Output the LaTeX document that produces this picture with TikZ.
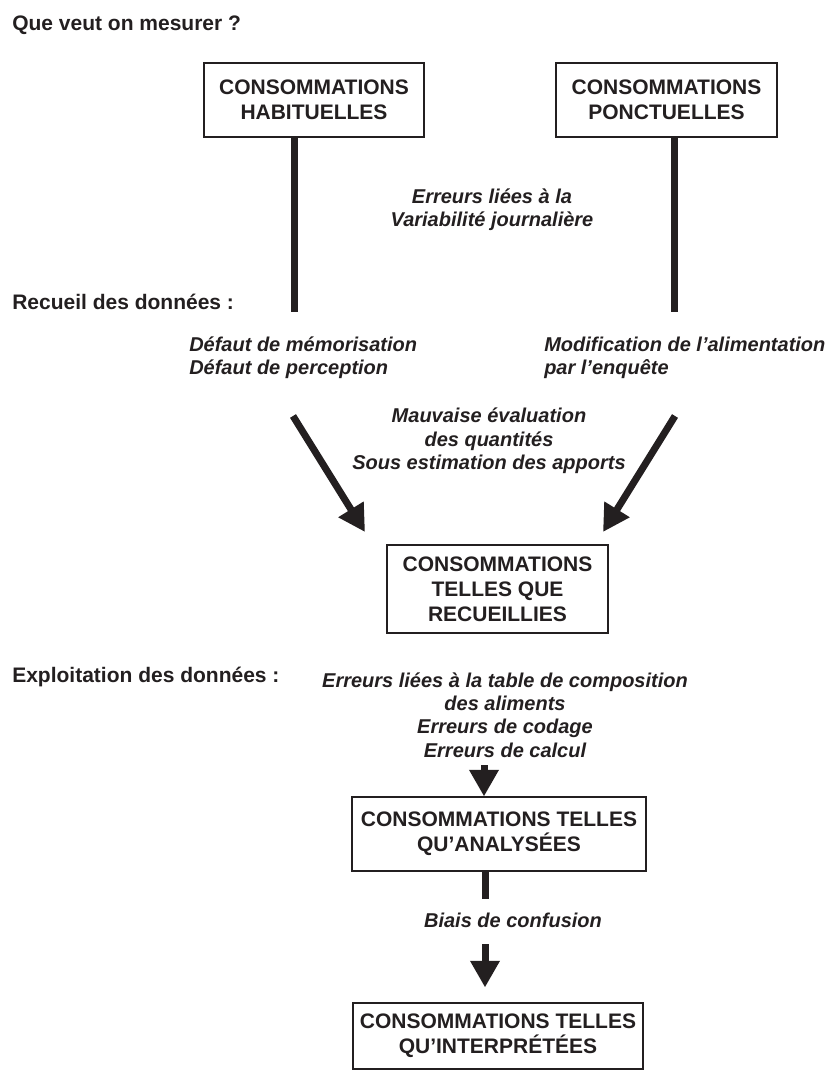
\documentclass[tikz,border=0pt]{standalone}
\usepackage{fontspec}
\setmainfont{Liberation Sans}
\usetikzlibrary{arrows.meta}
\definecolor{encre}{RGB}{35,31,32}

\begin{document}
\begin{tikzpicture}[
    x=0.75pt, y=-0.75pt,
    boite/.style={
      draw=encre, line width=0.8pt, align=center, inner sep=0pt,
      text=encre, font=\fontsize{15.75}{18.75}\selectfont\bfseries
    },
    rubrique/.style={
      anchor=base west, inner sep=0pt, text=encre,
      font=\fontsize{15.75}{18.75}\selectfont\bfseries
    },
    erreur/.style={
      align=center, inner sep=0pt, text=encre,
      font=\fontsize{15}{17.6}\selectfont\bfseries\itshape
    },
    trait/.style={draw=encre, line width=5.25pt},
    fleche/.style={
      trait,
      -{Triangle[length=20pt,width=21pt]}
    }
  ]
    \useasboundingbox (0,0) rectangle (827,1071);

    \node[rubrique] (Question) at (12,30) {Que veut on mesurer ?};
    \node[rubrique] (Recueil) at (12,309) {Recueil des données :};
    \node[rubrique] (Exploitation) at (12,682) {Exploitation des données :};

    \node[boite,minimum width=165pt,minimum height=55.5pt] (Habituelles) at (314,100) {CONSOMMATIONS\\HABITUELLES};
    \node[boite,minimum width=165.75pt,minimum height=55.5pt] (Ponctuelles) at (666.5,100) {CONSOMMATIONS\\PONCTUELLES};
    \node[boite,minimum width=165.75pt,minimum height=66pt] (Recueillies) at (497.5,589) {CONSOMMATIONS\\TELLES QUE\\RECUEILLIES};
    \node[boite,minimum width=220.5pt,minimum height=55.5pt] (Analysees) at (499,834) {CONSOMMATIONS TELLES\\QU’ANALYSÉES};
    \node[boite,minimum width=217.5pt,minimum height=49.5pt] (Interpretees) at (498,1036) {CONSOMMATIONS TELLES\\QU’INTERPRÉTÉES};

    \node[erreur] (Variabilite) at (492,210) {Erreurs liées à la\\Variabilité journalière};
    \node[erreur,align=left,anchor=west] (Memoire) at (189,358) {Défaut de mémorisation\\Défaut de perception};
    \node[erreur,align=left,anchor=west] (Enquete) at (544,358) {Modification de l’alimentation\\par l’enquête};
    \node[erreur] (Quantites) at (489,441) {Mauvaise évaluation\\des quantités\\Sous estimation des apports};
    \node[erreur] (Composition) at (505,715) {Erreurs liées à la table de composition\\des aliments\\Erreurs de codage\\Erreurs de calcul};
    \node[erreur] (Confusion) at (513,920) {Biais de confusion};

    \coordinate (HabBas) at (294,312);
    \coordinate (PonBas) at (674,312);
    \coordinate (HabQueue) at (293,416);
    \coordinate (HabPointe) at (365,532);
    \coordinate (PonQueue) at (675,416);
    \coordinate (PonPointe) at (603,532);
    \coordinate (CalculQueue) at (484,765);
    \coordinate (AnaBas) at (485,899);
    \coordinate (ConfQueue) at (485,944);

    \draw[trait] (Habituelles.south -| HabBas) -- (HabBas);
    \draw[trait] (Ponctuelles.south -| PonBas) -- (PonBas);
    \draw[fleche] (HabQueue) -- (HabPointe);
    \draw[fleche] (PonQueue) -- (PonPointe);
    \draw[fleche] (CalculQueue) -- (CalculQueue |- Analysees.north);
    \draw[trait] (Analysees.south -| AnaBas) -- (AnaBas);
    \draw[fleche,shorten >=11.25pt] (ConfQueue) -- (ConfQueue |- Interpretees.north);
  \end{tikzpicture}
\end{document}
